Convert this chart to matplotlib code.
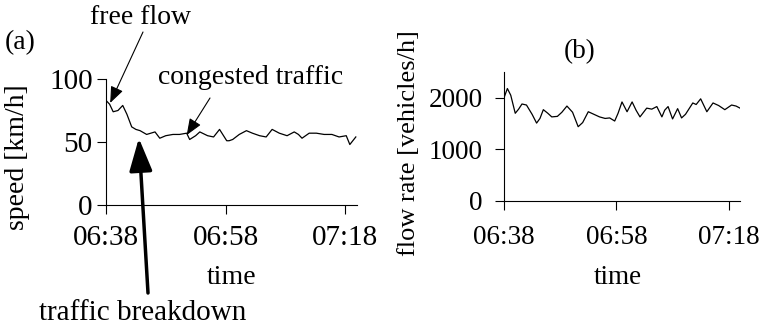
import numpy as np
import matplotlib
matplotlib.use('Agg')
import matplotlib.pyplot as plt

plt.rcParams['font.family'] = ['Liberation Serif', 'DejaVu Serif']
plt.rcParams['font.size'] = 20

# minutes after 06:38
speed_t = [0, 0.6, 1.2, 2, 2.8, 3.5, 4.3, 5, 5.7, 6.8, 7.5, 8.2, 9, 10, 11.2, 12.3,
           13.5, 14, 15, 15.7, 17, 18, 19, 20.2, 20.6, 21.2, 22.3, 23.5, 24.5, 25.7,
           26.8, 27.8, 29, 30.3, 31.5, 32.2, 32.8, 34, 35.2, 36.5, 37.8, 39, 40.2,
           40.8, 41.8]
speed = [83, 80, 74, 75, 79, 72, 62, 60, 59, 56, 57, 58, 53, 55, 56, 56,
         57, 52, 55, 58, 55, 54, 60, 51, 51, 52, 56, 59, 57, 55,
         54, 60, 57, 55, 58, 56, 53, 57, 57, 56, 56, 54, 55,
         48, 54]

flow_t = [0, 0.6, 1.2, 2, 2.6, 3.2, 4, 5, 5.8, 6.4, 7, 7.8, 8.5, 9.5, 10.3, 11.2,
          12.2, 13.2, 14, 15, 16, 17, 18, 18.8, 19.7, 20.3, 21, 21.9, 22.8, 23.5,
          24.2, 25.4, 26.3, 27.2, 28.1, 28.6, 29.2, 30, 30.9, 31.6, 32.3, 33.6, 34.2,
          35, 36.1, 37.2, 38.2, 39.3, 40.5, 41.3, 42]
flow = [2000, 2180, 2050, 1700, 1780, 1880, 1860, 1680, 1510, 1600, 1770, 1700, 1630, 1640, 1720, 1840,
        1720, 1440, 1520, 1730, 1680, 1630, 1600, 1610, 1550, 1700, 1920, 1730, 1920, 1760,
        1630, 1800, 1780, 1830, 1630, 1760, 1830, 1590, 1790, 1610, 1680, 1900, 1870,
        1980, 1730, 1900, 1850, 1770, 1860, 1840, 1800]

tick_pos = [0, 20, 40]
tick_labels = ['06:38', '06:58', '07:18']

fig = plt.figure(figsize=(7.6, 3.29), dpi=100)
ax1 = fig.add_axes([106 / 760, 1 - 205 / 329, 251 / 760, 126 / 329])
ax2 = fig.add_axes([504 / 760, 1 - 201 / 329, 236 / 760, 129 / 329])


def style(ax, ymax, yticks, xpad, ypad, fs):
    for s in ['top', 'right']:
        ax.spines[s].set_visible(False)
    for s in ['left', 'bottom']:
        ax.spines[s].set_linewidth(0.8)
    ax.set_xlim(0, 42)
    ax.set_ylim(0, ymax)
    ax.set_xticks(tick_pos)
    ax.set_xticklabels(tick_labels)
    ax.set_yticks(yticks)
    ax.tick_params(direction='out', length=6.5, width=0.8, labelsize=fs)
    ax.tick_params(axis='x', pad=xpad)
    ax.tick_params(axis='y', pad=ypad)
    ax.patch.set_visible(False)


ax1.plot(speed_t, speed, color='black', lw=0.9, solid_joinstyle='round')
style(ax1, 100, [0, 50, 100], 8, 3, 21)
ax2.plot(flow_t, flow, color='black', lw=0.9, solid_joinstyle='round')
style(ax2, 2500, [0, 1000, 2000], 11, 9, 19.5)

fig.text(18 / 760, 1 - 157 / 329, 'speed [km/h]', rotation=90, ha='center', va='center')
fig.text(409 / 760, 1 - 143 / 329, 'flow rate [vehicles/h]', rotation=90, ha='center',
         va='center', fontsize=19)
fig.text(232 / 760, 1 - 277 / 329, 'time', ha='center', va='center')
fig.text(618 / 760, 1 - 277 / 329, 'time', ha='center', va='center', fontsize=19.5)
fig.text(20 / 760, 1 - 43 / 329, '(a)', ha='center', va='center')
fig.text(580 / 760, 1 - 52 / 329, '(b)', ha='center', va='center', fontsize=19.5)
fig.text(140 / 760, 1 - 18 / 329, 'free flow', ha='center', va='center')
fig.text(251 / 760, 1 - 78 / 329, 'congested traffic', ha='center', va='center')
fig.text(143 / 760, 1 - 313 / 329, 'traffic breakdown', ha='center', va='center', fontsize=21)

thin = dict(arrowstyle='-|>,head_length=0.5,head_width=0.2', color='black', lw=0.8,
            shrinkA=0, shrinkB=0)
thick = dict(arrowstyle='-|>,head_length=1.0,head_width=0.35', color='black', lw=2.5,
             shrinkA=0, shrinkB=0)
ax1.annotate('', xy=(0.7, 81), xytext=(143 / 760, 1 - 32 / 329),
             textcoords='figure fraction', arrowprops=thin)
ax1.annotate('', xy=(13.5, 55.5), xytext=(210 / 760, 1 - 98 / 329),
             textcoords='figure fraction', arrowprops=thin)
ax1.annotate('', xy=(5.5, 53), xytext=(148 / 760, 1 - 293 / 329),
             textcoords='figure fraction', arrowprops=thick, annotation_clip=False)

fig.savefig('out.png', dpi=100)
